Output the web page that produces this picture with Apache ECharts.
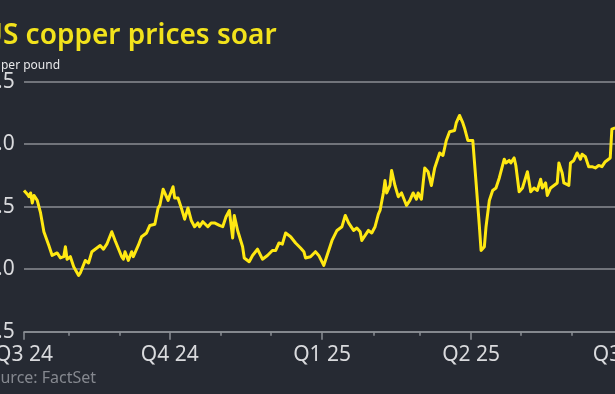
<!DOCTYPE html>
<html><head><meta charset="utf-8">
<script src="https://cdn.jsdelivr.net/npm/echarts@6/dist/echarts.min.js"></script>
<style>html,body{margin:0;padding:0;background:#262a33;overflow:hidden;width:615px;height:394px;}#c{width:660px;height:394px;}</style>
</head><body><div id="c"></div>
<script>
// ---- data ----
const dates = [
'2024-07-05','2024-07-07','2024-07-08','2024-07-09','2024-07-10','2024-07-11','2024-07-13','2024-07-15','2024-07-17','2024-07-20',
'2024-07-22','2024-07-25','2024-07-27','2024-07-29','2024-07-30','2024-07-31','2024-08-02','2024-08-04','2024-08-05','2024-08-07',
'2024-08-08','2024-08-11','2024-08-13','2024-08-15','2024-08-18','2024-08-20','2024-08-22','2024-08-24','2024-08-27','2024-08-29',
'2024-08-30','2024-09-02','2024-09-03','2024-09-04','2024-09-06','2024-09-08','2024-09-09','2024-09-12','2024-09-14','2024-09-17',
'2024-09-19','2024-09-22','2024-09-24','2024-09-25','2024-09-27','2024-09-28','2024-09-30','2024-10-01','2024-10-03','2024-10-04',
'2024-10-06','2024-10-08','2024-10-10','2024-10-12','2024-10-14','2024-10-16','2024-10-18','2024-10-19','2024-10-21','2024-10-22',
'2024-10-24','2024-10-26','2024-10-28','2024-10-31','2024-11-02','2024-11-04','2024-11-06','2024-11-08','2024-11-09','2024-11-11',
'2024-11-14','2024-11-15','2024-11-18','2024-11-20','2024-11-23','2024-11-26','2024-11-29','2024-12-02','2024-12-04','2024-12-06',
'2024-12-08','2024-12-10','2024-12-13','2024-12-16','2024-12-19','2024-12-21','2024-12-22','2024-12-25','2024-12-28','2024-12-30',
'2025-01-02','2025-01-04','2025-01-07','2025-01-10','2025-01-13','2025-01-15','2025-01-17','2025-01-20','2025-01-22','2025-01-24',
'2025-01-25','2025-01-27','2025-01-29','2025-01-31','2025-02-02','2025-02-04','2025-02-05','2025-02-07','2025-02-08','2025-02-09',
'2025-02-11','2025-02-12','2025-02-14','2025-02-16','2025-02-18','2025-02-21','2025-02-23','2025-02-25','2025-02-27','2025-02-28',
'2025-03-02','2025-03-04','2025-03-06','2025-03-08','2025-03-10','2025-03-13','2025-03-15','2025-03-17','2025-03-19','2025-03-22',
'2025-03-23','2025-03-25','2025-03-27','2025-03-28','2025-03-30','2025-04-02','2025-04-04','2025-04-06','2025-04-07','2025-04-09',
'2025-04-10','2025-04-12','2025-04-14','2025-04-16','2025-04-18','2025-04-19','2025-04-21','2025-04-22','2025-04-24','2025-04-25',
'2025-04-27','2025-04-28','2025-04-30','2025-05-02','2025-05-05','2025-05-07','2025-05-09','2025-05-11','2025-05-13','2025-05-14',
'2025-05-16','2025-05-17','2025-05-19','2025-05-21','2025-05-23','2025-05-24','2025-05-26','2025-05-27','2025-05-30','2025-05-31',
'2025-06-02','2025-06-04','2025-06-06','2025-06-07','2025-06-09','2025-06-11','2025-06-13','2025-06-15','2025-06-17','2025-06-19',
'2025-06-21','2025-06-24','2025-06-25','2025-06-27'
];
const prices = [
4.63,4.60,4.58,4.61,4.53,4.59,4.55,4.45,4.30,4.19,
4.11,4.13,4.09,4.10,4.18,4.08,4.10,4.02,4.03,3.95,
3.97,4.07,4.05,4.14,4.17,4.19,4.16,4.20,4.30,4.23,
4.22,4.10,4.08,4.14,4.07,4.14,4.10,4.19,4.26,4.29,
4.35,4.36,4.49,4.51,4.64,4.61,4.55,4.59,4.66,4.57,
4.57,4.49,4.40,4.49,4.39,4.34,4.37,4.34,4.38,4.37,
4.34,4.37,4.37,4.35,4.34,4.42,4.47,4.25,4.43,4.31,
4.18,4.09,4.06,4.11,4.16,4.08,4.11,4.15,4.15,4.21,
4.20,4.29,4.26,4.21,4.17,4.14,4.09,4.10,4.14,4.11,
4.03,4.11,4.23,4.31,4.34,4.43,4.37,4.31,4.33,4.30,
4.23,4.27,4.31,4.29,4.34,4.44,4.47,4.61,4.71,4.61,
4.67,4.79,4.67,4.58,4.61,4.51,4.55,4.61,4.56,4.61,
4.56,4.81,4.78,4.67,4.81,4.93,4.91,5.03,5.10,5.11,
5.17,5.23,5.17,5.13,5.03,5.03,4.69,4.34,4.15,4.18,
4.34,4.55,4.63,4.65,4.73,4.74,4.88,4.85,4.87,4.85,
4.89,4.83,4.62,4.65,4.78,4.62,4.65,4.63,4.72,4.65,
4.69,4.59,4.65,4.67,4.69,4.85,4.77,4.69,4.67,4.85,
4.87,4.93,4.88,4.92,4.90,4.82,4.82,4.81,4.83,4.82,
4.86,4.89,5.12,5.13
];
const yTicks = ['3.5','4.0','4.5','5.0','5.5'];
const monthTicks = ['2024-08-01','2024-09-01','2024-11-01','2024-12-01','2025-02-01','2025-03-01','2025-05-01','2025-06-01'];
const quarterTicks = ['2024-07-05','2024-10-01','2025-01-01','2025-04-01','2025-07-01'];
const quarterLabels = ['Q3 24','Q4 24','Q1 25','Q2 25','Q3 25'];
const titleText = 'US copper prices soar';
const unitText = '$ per pound';
const sourceText = 'Source: FactSet';

// ---- helpers ----
function ts(s){ const p = s.split('-').map(Number); return new Date(p[0], p[1]-1, p[2]).getTime(); }
const seriesData = dates.map((d,i)=>[ts(d), prices[i]]);
const qTs = quarterTicks.map(ts);
const FONT = 'Noto Sans';
const GRID = '#8b8e95';
const X_MIN = ts('2024-07-05'), X_MAX = ts('2025-07-15');

const chart = echarts.init(document.getElementById('c'), null, {renderer:'canvas'});
chart.setOption({
  animation:false,
  backgroundColor:'#262a33',
  textStyle:{fontFamily:FONT},
  grid:{left:24, right:15, top:81.7, bottom:62.3, containLabel:false, outerBoundsMode:'none'},
  graphic:[
    {type:'text', left:-18, top:22, style:{text:titleText, fill:'#f2e21c', font:'600 28px "Noto Sans"'}},
    {type:'text', left:-9, top:60, style:{text:unitText, fill:'#e8e8ea', font:'400 12px "Noto Sans"'}},
    {type:'text', left:-18, top:370, style:{text:sourceText, fill:'#85888f', font:'400 16px "Noto Sans"'}}
  ],
  xAxis:[
    {type:'value', min:X_MIN, max:X_MAX, scale:true,
     axisLine:{show:true, onZero:false, lineStyle:{color:GRID, width:1.5}},
     axisTick:{show:true, length:4, lineStyle:{color:GRID, width:1.5}, customValues:monthTicks.map(ts)},
     axisLabel:{show:false},
     splitLine:{show:false}},
    {type:'value', min:X_MIN, max:X_MAX, scale:true, position:'bottom',
     axisLine:{show:false, onZero:false},
     axisTick:{show:true, length:8, lineStyle:{color:GRID, width:1.5}, customValues:qTs},
     axisLabel:{show:true, margin:13, color:'#d9dadd', fontSize:21, fontFamily:FONT,
       alignMinLabel:'center', alignMaxLabel:'center', hideOverlap:false,
       customValues:qTs,
       formatter:function(v){ const i = qTs.indexOf(v); return i>=0?quarterLabels[i]:''; }},
     splitLine:{show:false}}
  ],
  yAxis:{type:'value', min:3.5, max:5.5, interval:0.5,
    axisLine:{show:false}, axisTick:{show:false},
    splitLine:{show:true, lineStyle:{color:GRID, width:1.5}},
    axisLabel:{align:'left', margin:39, color:'#d9dadd', fontSize:21, fontFamily:FONT,
      formatter:function(v){ const s=v.toFixed(1); return yTicks.indexOf(s)>=0?s:''; }}},
  series:[{type:'line', xAxisIndex:0, data:seriesData, showSymbol:false, symbol:'none',
    lineStyle:{color:'#ffe812', width:3, join:'round'}, clip:true}]
});
</script></body></html>
